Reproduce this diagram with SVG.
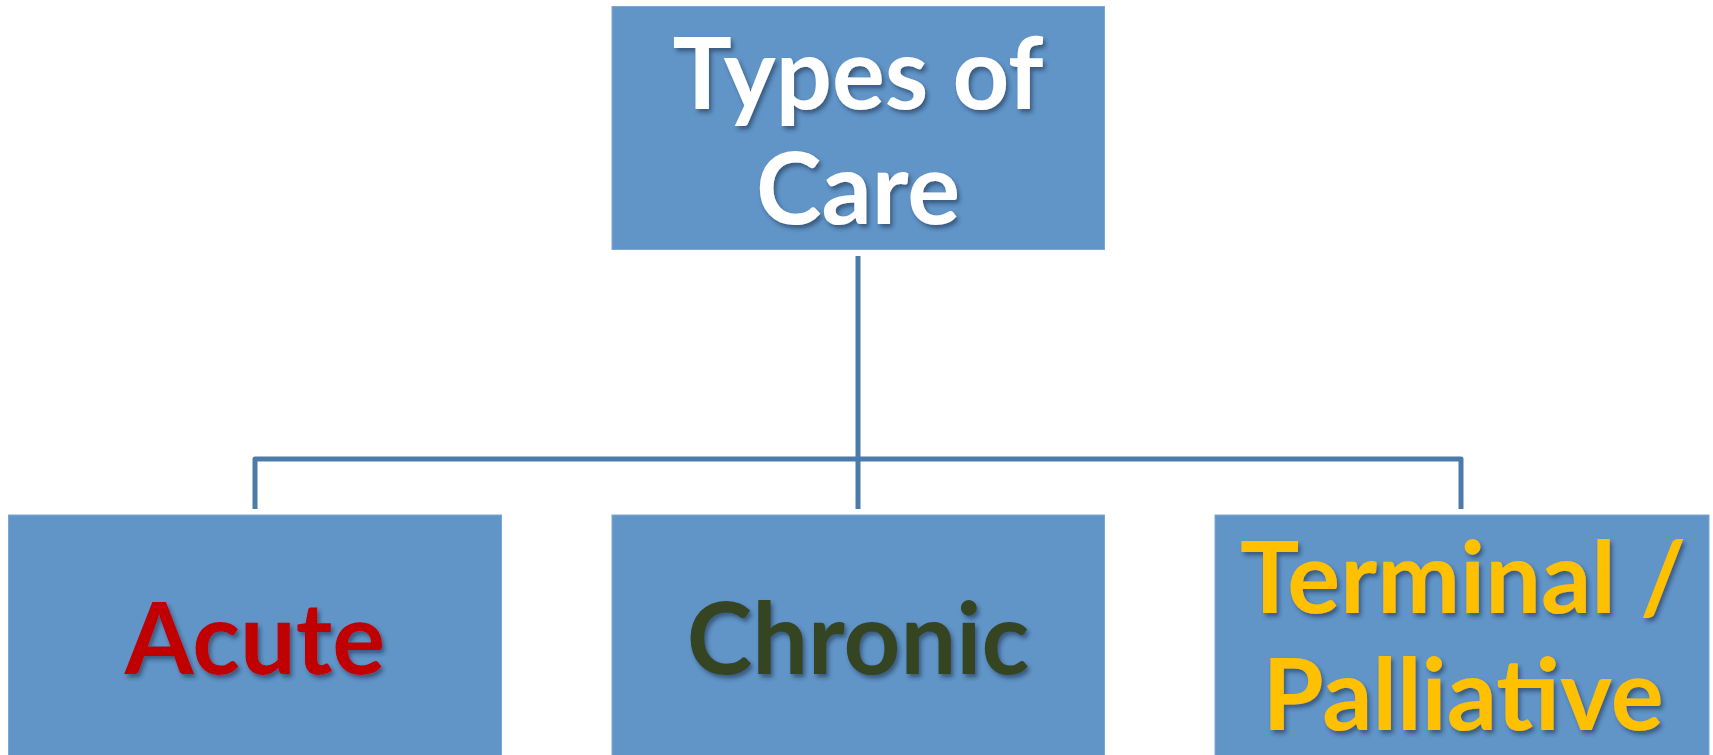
<svg xmlns="http://www.w3.org/2000/svg" width="1713" height="755" viewBox="0 0 1713 755">
<defs>
<style>
.box{fill:#6195C8;stroke:#7AA7D4;stroke-width:1}
.lbl{font-family:Lato,"Open Sans","Liberation Sans",sans-serif;font-weight:bold;font-size:99px;text-anchor:middle;filter:url(#sh)}
.conn{fill:none;stroke:#4B7BA9;stroke-width:5;stroke-linejoin:round}
</style>
<filter id="sh" x="-10%" y="-20%" width="130%" height="150%">
<feDropShadow dx="2.5" dy="3.5" stdDeviation="2" flood-color="#1F3550" flood-opacity="0.6"/>
</filter>
</defs>
<rect width="1713" height="755" fill="#FFFFFF"/>
<g id="connectors">
<line class="conn" x1="858" y1="256" x2="858" y2="509"/>
<polyline class="conn" points="255,509 255,459 1461,459 1461,509"/>
</g>
<g id="types-of-care">
<rect class="box" x="612" y="6.5" width="492.5" height="243"/>
<text class="lbl" x="858" y="109" fill="#FFFFFF">Types of</text>
<text class="lbl" x="858" y="224" fill="#FFFFFF">Care</text>
</g>
<g id="acute">
<rect class="box" x="8.5" y="515" width="493" height="245"/>
<text class="lbl" x="255" y="674" fill="#C00000">Acute</text>
</g>
<g id="chronic">
<rect class="box" x="612" y="515" width="492.5" height="245"/>
<text class="lbl" x="858" y="674" fill="#344420">Chronic</text>
</g>
<g id="terminal">
<rect class="box" x="1215" y="515" width="494" height="245"/>
<text class="lbl" x="1463" y="613" fill="#FFC000">Terminal /</text>
<text class="lbl" x="1463" y="730" fill="#FFC000">Palliative</text>
</g>
</svg>
